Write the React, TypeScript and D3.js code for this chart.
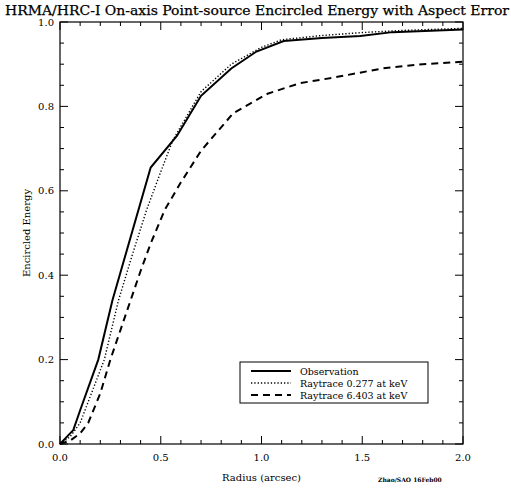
import React, { useEffect, useRef } from "react";
import * as d3 from "d3";

const obsR = [0, 0.066, 0.1, 0.19, 0.26, 0.45, 0.58, 0.7, 0.85, 0.975, 1.11, 1.3, 1.49, 1.65, 2.0];
const obsE = [0, 0.033, 0.08, 0.2, 0.34, 0.655, 0.73, 0.825, 0.89, 0.93, 0.955, 0.962, 0.967, 0.976, 0.982];

const rt277R = [0, 0.05, 0.1, 0.14, 0.22, 0.29, 0.36, 0.43, 0.5, 0.56, 0.7, 0.85, 1.0, 1.1, 1.3, 1.5, 1.7, 2.0];
const rt277E = [0, 0.017, 0.05, 0.1, 0.2, 0.34, 0.45, 0.555, 0.645, 0.72, 0.835, 0.9, 0.94, 0.958, 0.968, 0.975, 0.98, 0.985];

const rt6403R = [0, 0.05, 0.1, 0.14, 0.2, 0.25, 0.3, 0.35, 0.4, 0.45, 0.52, 0.6, 0.7, 0.86, 1.03, 1.19, 1.355, 1.6, 1.8, 2.0];
const rt6403E = [0, 0.008, 0.025, 0.05, 0.12, 0.2, 0.27, 0.34, 0.41, 0.475, 0.555, 0.62, 0.695, 0.784, 0.83, 0.855, 0.868, 0.89, 0.9, 0.906];

const xTicks = [0, 0.5, 1.0, 1.5, 2.0];
const yTicks = [0, 0.2, 0.4, 0.6, 0.8, 1.0];
const legendLabels = ["Observation", "Raytrace 0.277 at keV", "Raytrace 6.403 at keV"];
const dashes = ["none", "1.3,2", "7,5"];
const widths = [2, 1.4, 2];

export default function App() {
  const ref = useRef<SVGSVGElement>(null);

  useEffect(() => {
    document.body.style.margin = "0";
    const svg = d3.select(ref.current);
    svg.selectAll("*").remove();
    const font = "'DejaVu Serif', serif";
    const x = d3.scaleLinear().domain([0, 2]).range([60, 463]);
    const y = d3.scaleLinear().domain([0, 1]).range([444, 22]);

    svg.append("rect").attr("width", 511).attr("height", 490).attr("fill", "white");

    svg.append("text")
      .attr("x", 5).attr("y", 15)
      .attr("textLength", 504).attr("lengthAdjust", "spacingAndGlyphs")
      .attr("font-family", font).attr("font-size", 13)
      .attr("stroke", "black").attr("stroke-width", 0.25)
      .text("HRMA/HRC-I On-axis Point-source Encircled Energy with Aspect Error");

    const g = svg.append("g").attr("stroke", "black").attr("fill", "none");
    g.append("rect")
      .attr("x", x(0)).attr("y", y(1))
      .attr("width", x(2) - x(0)).attr("height", y(0) - y(1))
      .attr("stroke-width", 1.2);

    // x ticks, inward on bottom and top
    d3.range(0, 2.0001, 0.1).forEach((v, i) => {
      const len = i % 5 === 0 ? 8 : 4;
      g.append("line").attr("x1", x(v)).attr("x2", x(v)).attr("y1", y(0)).attr("y2", y(0) - len);
      g.append("line").attr("x1", x(v)).attr("x2", x(v)).attr("y1", y(1)).attr("y2", y(1) + len);
    });
    d3.range(0, 1.0001, 0.05).forEach((v, i) => {
      const len = i % 4 === 0 ? 8 : 4;
      g.append("line").attr("x1", x(0)).attr("x2", x(0) + len).attr("y1", y(v)).attr("y2", y(v));
      g.append("line").attr("x1", x(2)).attr("x2", x(2) - len).attr("y1", y(v)).attr("y2", y(v));
    });

    svg.append("g").selectAll("text").data(xTicks).join("text")
      .attr("x", d => x(d)).attr("y", 461)
      .attr("text-anchor", "middle").attr("font-family", font).attr("font-size", 10)
      .text(d => d.toFixed(1));
    svg.append("g").selectAll("text").data(yTicks).join("text")
      .attr("x", 54).attr("y", d => y(d) + 3.5)
      .attr("text-anchor", "end").attr("font-family", font).attr("font-size", 10)
      .text(d => d.toFixed(1));

    svg.append("text")
      .attr("x", (x(0) + x(2)) / 2).attr("y", 481)
      .attr("text-anchor", "middle").attr("font-family", font).attr("font-size", 10)
      .text("Radius (arcsec)");
    svg.append("text")
      .attr("transform", `translate(30,${(y(0) + y(1)) / 2}) rotate(-90)`)
      .attr("text-anchor", "middle").attr("font-family", font).attr("font-size", 10)
      .text("Encircled Energy");

    svg.append("text")
      .attr("x", 378).attr("y", 482)
      .attr("font-family", font).attr("font-size", 6).attr("font-weight", "bold")
      .text("Zhao/SAO 16Feb00");

    const series = [
      d3.zip(obsR, obsE),
      d3.zip(rt277R, rt277E),
      d3.zip(rt6403R, rt6403E),
    ];
    const line = d3.line<number[]>().x(d => x(d[0])).y(d => y(d[1]));
    series.forEach((s, i) => {
      svg.append("path")
        .attr("d", line(s))
        .attr("fill", "none").attr("stroke", "black")
        .attr("stroke-width", widths[i])
        .attr("stroke-dasharray", dashes[i]);
    });

    // legend
    const lg = svg.append("g");
    lg.append("rect")
      .attr("x", 240).attr("y", 362).attr("width", 188).attr("height", 41)
      .attr("fill", "white").attr("stroke", "black").attr("stroke-width", 1);
    legendLabels.forEach((lab, i) => {
      const yy = 371 + i * 12;
      lg.append("line")
        .attr("x1", 251).attr("x2", 291).attr("y1", yy).attr("y2", yy)
        .attr("stroke", "black").attr("stroke-width", widths[i])
        .attr("stroke-dasharray", dashes[i]);
      lg.append("text")
        .attr("x", 300).attr("y", yy + 3.5)
        .attr("font-family", font).attr("font-size", 9.5)
        .text(lab);
    });
  }, []);

  return <svg ref={ref} width={511} height={490} style={{ display: "block" }} />;
}
